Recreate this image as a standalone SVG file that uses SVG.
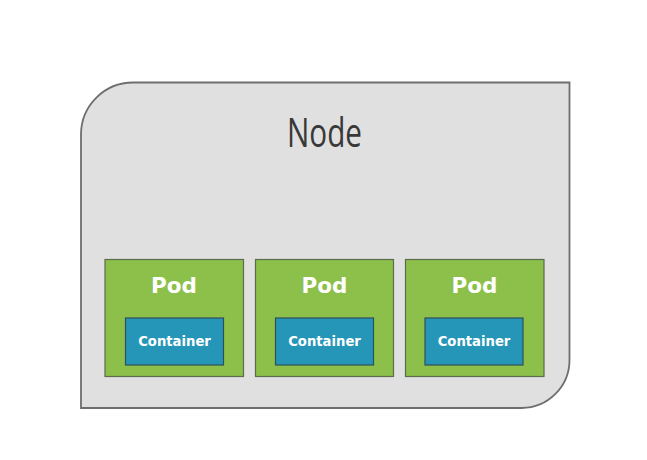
<svg xmlns="http://www.w3.org/2000/svg" width="647" height="460" viewBox="0 0 647 460">
<style>
.pod{fill:#8dc04a;stroke:#5b6b4c;stroke-width:1.2}
.ctr{fill:#2596b7;stroke:#2f4f5a;stroke-width:1.2}
.podt{font-family:"DejaVu Sans","Open Sans",sans-serif;font-weight:700;font-size:21.5px;fill:#ffffff;text-anchor:middle}
.ctrt{font-family:"DejaVu Sans","Open Sans",sans-serif;font-weight:700;font-size:13.2px;fill:#ffffff;text-anchor:middle}
</style>
<rect width="647" height="460" fill="#ffffff"/>
<g id="node">
<path d="M81,408 L81,134 A52,52 0 0 1 133,82.5 L569.5,82.5 L569.5,360 A48,48 0 0 1 521.5,408 Z" fill="#e0e0e0" stroke="#6e6e6e" stroke-width="1.8"/>
<text x="324.5" y="146.5" font-family="Open Sans, Liberation Sans, sans-serif" font-size="40" fill="#383838" text-anchor="middle" textLength="75" lengthAdjust="spacingAndGlyphs">Node</text>
</g>
<g id="pod1">
<rect class="pod" x="105" y="259.5" width="138.5" height="117"/>
<text class="podt" x="174" y="293">Pod</text>
</g>
<g id="container1">
<rect class="ctr" x="125.5" y="318" width="98" height="47"/>
<text class="ctrt" x="174.5" y="345.5">Container</text>
</g>
<g id="pod2">
<rect class="pod" x="255.5" y="259.5" width="138" height="117"/>
<text class="podt" x="324.5" y="293">Pod</text>
</g>
<g id="container2">
<rect class="ctr" x="275.5" y="318" width="98" height="47"/>
<text class="ctrt" x="324.5" y="345.5">Container</text>
</g>
<g id="pod3">
<rect class="pod" x="405.5" y="259.5" width="138.5" height="117"/>
<text class="podt" x="474.5" y="293">Pod</text>
</g>
<g id="container3">
<rect class="ctr" x="425" y="318" width="98" height="47"/>
<text class="ctrt" x="474" y="345.5">Container</text>
</g>
<g id="connectors"></g>
</svg>
